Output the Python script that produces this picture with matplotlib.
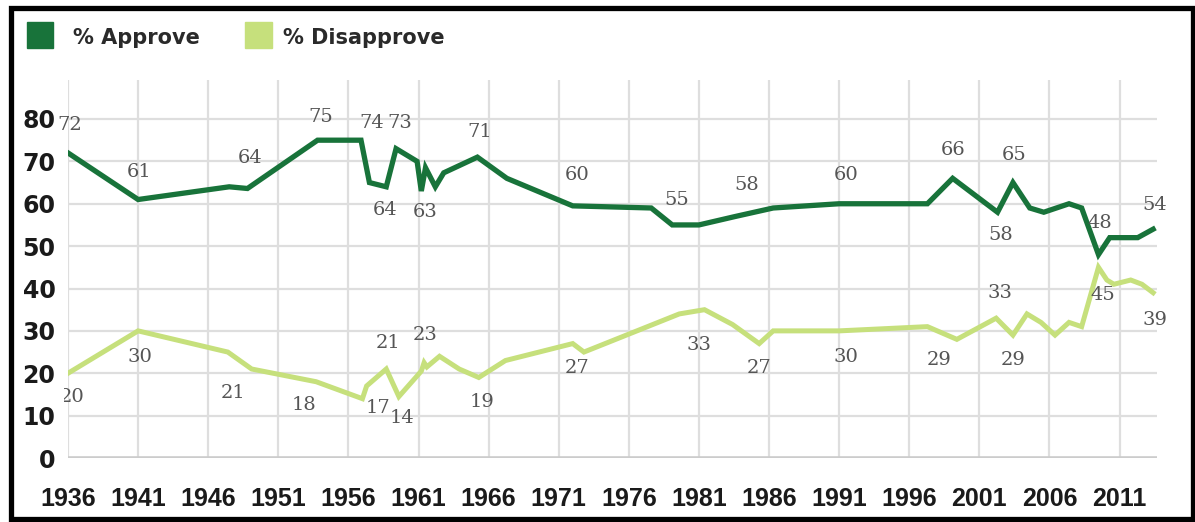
import matplotlib.pyplot as plt
from matplotlib.patches import Rectangle
from matplotlib.transforms import Bbox

# Approve line (years, several polls per year in places)
yrs_approve = [1936, 1941, 1947.5, 1948.8, 1953.8, 1956.9, 1957.5, 1958.7, 1959.4,
               1960.9, 1961.2, 1961.5, 1962.2, 1962.8, 1965.2, 1967.3, 1972, 1977.6,
               1979.1, 1981, 1983.6, 1986.3, 1991, 1997.3, 1999.1, 2002.3, 2003.4,
               2004.6, 2005.6, 2007.4, 2008.3, 2009.5, 2010.3, 2012.3, 2013.4]
approve = [72, 61, 64, 63.6, 75, 75, 65, 64, 73,
           70, 63, 68.5, 64, 67.3, 71, 66, 59.5, 59,
           55, 55, 57, 59, 60, 60, 66, 58, 65,
           59, 58, 60, 59, 48, 52, 52, 54]

yrs_disapprove = [1936, 1941, 1947.4, 1949.1, 1953.7, 1957, 1957.3, 1958.7, 1959.6,
                  1961.2, 1961.4, 1961.6, 1962.5, 1963.9, 1965.3, 1967.2, 1972, 1972.8,
                  1979.6, 1981.4, 1983.4, 1985.3, 1986.3, 1991, 1997.3, 1999.4, 2002.2,
                  2003.4, 2004.4, 2005.4, 2006.4, 2007.4, 2008.3, 2009.5, 2010.1, 2010.6,
                  2011.8, 2012.6, 2013.4]
disapprove = [20, 30, 25, 21, 18, 14, 17, 21, 14.5,
              20.5, 22.5, 21.5, 24, 21, 19, 23, 27, 25,
              34, 35, 31.5, 27, 30, 30, 31, 28, 33,
              29, 34, 32, 29, 32, 31, 45, 42, 41,
              42, 41, 39]

# value labels printed on the chart
approve_labels = [72, 61, 64, 75, 74, 73, 64, 63, 71, 60, 55, 58, 60, 66, 65, 58, 48, 54]
approve_lab_x = [1936.1, 1941.1, 1949, 1954, 1957.7, 1959.7, 1958.6, 1961.5, 1965.4,
                 1972.3, 1979.4, 1984.4, 1991.5, 1999.1, 2003.5, 2002.5, 2009.6, 2013.5]
approve_lab_y = [78.6, 67.5, 70.8, 80.5, 79, 79, 58.5, 58, 77,
                 66.8, 60.9, 64.4, 66.8, 72.7, 71.5, 52.6, 55.5, 59.7]

disapprove_labels = [20, 30, 21, 18, 17, 14, 21, 23, 19, 27, 33, 27, 30, 29, 33, 29, 45, 39]
disapprove_lab_x = [1936.3, 1941.1, 1947.8, 1952.8, 1958.1, 1959.8, 1958.8, 1961.5, 1965.5,
                    1972.3, 1981, 1985.3, 1991.5, 1998.1, 2002.5, 2003.4, 2009.8, 2013.5]
disapprove_lab_y = [14.4, 23.8, 15.3, 12.5, 11.8, 9.4, 27.1, 29, 13.2,
                    21.2, 26.7, 21.2, 23.8, 23.1, 38.9, 23.1, 38.5, 32.6]

x_ticks = list(range(1936, 2012, 5))
y_ticks = list(range(0, 81, 10))

dark = '#18733a'
light = '#c6e07c'

fig = plt.figure(figsize=(11.95, 5.22), dpi=100)
W, H = 1195, 522
ax = fig.add_axes([68 / W, 64 / H, (1157 - 68) / W, (458 - 80) / H])

ax.plot(yrs_approve, approve, color=dark, lw=3.8, solid_joinstyle='miter', zorder=3)
ax.plot(yrs_disapprove, disapprove, color=light, lw=3.6, solid_joinstyle='miter', zorder=3)

for v, x, y in zip(approve_labels, approve_lab_x, approve_lab_y):
    ax.text(x, y, str(v), ha='center', va='center', fontsize=14,
            family='DejaVu Serif', color='#555555', zorder=4, clip_on=False)
for i, (v, x, y) in enumerate(zip(disapprove_labels, disapprove_lab_x, disapprove_lab_y)):
    t = ax.text(x, y, str(v), ha='center', va='center', fontsize=14,
                family='DejaVu Serif', color='#555555', zorder=4, clip_on=False)
    if i == 0:
        t.set_clip_box(Bbox.from_extents(64, 0, W, H))
        t.set_clip_on(True)

ax.set_xlim(1936, 1936 + (1157 - 68) / 14.02)
ax.set_ylim(0, 378 / 4.2375)
ax.set_xticks(x_ticks)
ax.set_yticks(y_ticks)
ax.set_xticklabels([str(t) for t in x_ticks], fontsize=18, fontweight='bold',
                   family='Liberation Sans', color='#1a1a1a')
ax.set_yticklabels([str(t) for t in y_ticks], fontsize=17, fontweight='bold',
                   family='DejaVu Sans', color='#1a1a1a')
ax.tick_params(axis='x', length=0, pad=21)
ax.tick_params(axis='y', length=0, pad=9)
ax.grid(color='#dedede', lw=1.6)
ax.set_axisbelow(True)
ax.axhline(0, color='#cccccc', lw=2.6, zorder=1)
for s in ax.spines.values():
    s.set_visible(False)

# legend
fig.add_artist(Rectangle((27 / W, (H - 48) / H), 26 / W, 26 / H, color=dark,
                         transform=fig.transFigure))
fig.text(73 / W, (H - 38) / H, '% Approve', fontsize=15, fontweight='bold',
         color='#2a2a2a', va='center', ha='left')
fig.add_artist(Rectangle((245 / W, (H - 48) / H), 27 / W, 26 / H, color=light,
                         transform=fig.transFigure))
fig.text(283 / W, (H - 38) / H, '% Disapprove', fontsize=15, fontweight='bold',
         color='#2a2a2a', va='center', ha='left')

# frame around the whole picture
fig.add_artist(Rectangle((10.5 / W, 3 / H), (1192.5 - 10.5) / W, (514.5 - 3) / H,
                         fill=False, lw=3.8, edgecolor='black',
                         transform=fig.transFigure))

fig.savefig('out.png', dpi=100)
